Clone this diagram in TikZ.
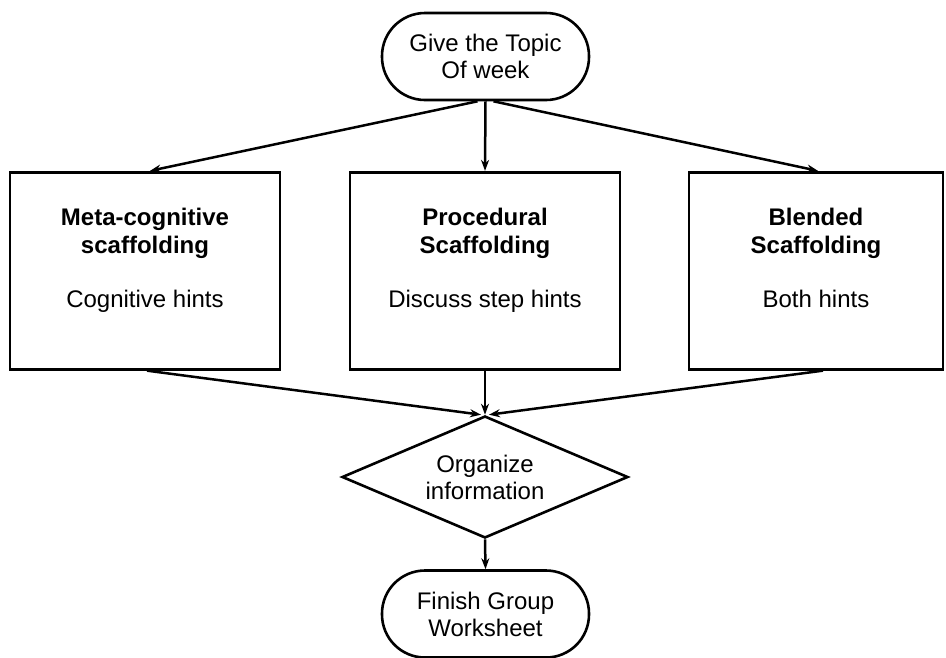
\documentclass[tikz,border=0pt]{standalone}
\usepackage{fontspec}
\setmainfont{Liberation Sans}
\usetikzlibrary{shapes.geometric,arrows.meta}
\begin{document}
\begin{tikzpicture}[x=1pt,y=-1pt,
  line/.style={line width=2.5pt},
  arr/.style={line, -{Stealth[length=11pt,width=8pt]}},
  term/.style={rectangle, rounded corners=43pt, draw, line width=2.6pt, minimum width=207pt, minimum height=87pt, inner sep=0pt, align=center, font=\fontsize{24}{27}\selectfont},
  blockbox/.style={rectangle, draw, line width=2.8pt, inner sep=0pt, minimum height=197pt},
  dia/.style={diamond, draw, line width=2.6pt, minimum width=286pt, minimum height=122pt, inner sep=0pt},
  txt/.style={align=center, inner sep=0pt, font=\fontsize{24}{27}\selectfont},
  ttl/.style={align=center, inner sep=0pt, font=\fontsize{24}{28}\selectfont\bfseries}]
\useasboundingbox (0,0) rectangle (946,657);
\fill[white] (0,0) rectangle (946,657);

\node[term] (top) at (485.5,56.5) {Give the Topic\\Of week};

\node[blockbox, minimum width=270pt] (left) at (145,270.75) {};
\node[blockbox, minimum width=270pt] (mid) at (485,270.75) {};
\node[blockbox, minimum width=254pt] (right) at (816,270.75) {};

\node[ttl, anchor=base] (lt) at (145,253) {Meta-cognitive\\scaffolding};
\node[txt, anchor=base] (lh) at (145,307) {Cognitive hints};
\node[ttl, anchor=base] (mt) at (485,253) {Procedural\\Scaffolding};
\node[txt, anchor=base] (mh) at (485,307) {Discuss step hints};
\node[ttl, anchor=base] (rt) at (816,253) {Blended\\Scaffolding};
\node[txt, anchor=base] (rh) at (816,307) {Both hints};

\node[dia] (dia) at (485,477) {};
\node[txt] (dt) at (485,477) {Organize\\information};

\node[term] (bot) at (485.5,614) {Finish Group\\Worksheet};

\draw[arr] ([xshift=-8pt]top.south) -- ([xshift=5pt]left.north);
\draw[arr] (top.south) -- (mid.north);
\draw[arr] ([xshift=8pt]top.south) -- ([xshift=2pt]right.north);
\draw[arr] ([xshift=2pt]left.south) -- ([xshift=-4pt]dia.north);
\draw[arr] (mid.south) -- (dia.north);
\draw[arr] ([xshift=7pt]right.south) -- ([xshift=4pt]dia.north);
\draw[arr] (dia.south) -- (bot.north);
\end{tikzpicture}
\end{document}
